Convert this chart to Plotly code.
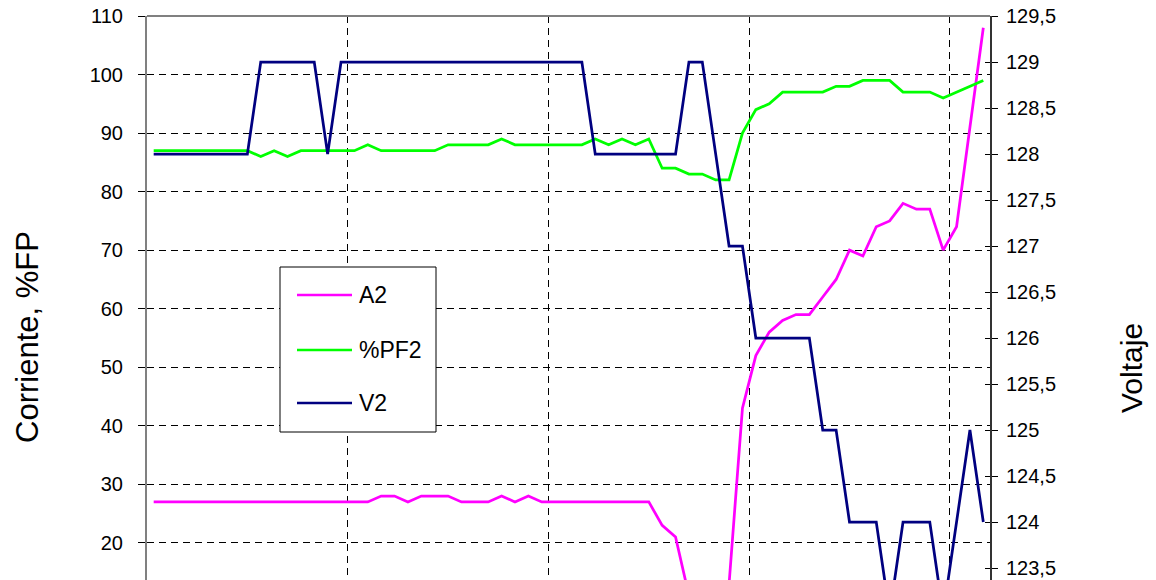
import plotly.graph_objects as go

# ---- data ----
idx = list(range(1, 64))

a2 = [27, 27, 27, 27, 27, 27, 27, 27, 27, 27, 27, 27, 27, 27, 27, 27, 27,
      28, 28, 27, 28, 28, 28, 27, 27, 27, 28, 27, 28,
      27, 27, 27, 27, 27, 27, 27, 27, 27,
      23, 21, 11, 8, 8, 13,
      43, 52, 56, 58, 59, 59, 62, 65, 70, 69, 74, 75, 78, 77, 77, 70, 74, 91, 108]

pf2 = [87, 87, 87, 87, 87, 87, 87, 87, 86, 87, 86, 87, 87, 87, 87, 87, 88,
       87, 87, 87, 87, 87, 88, 88, 88, 88, 89, 88, 88, 88, 88, 88, 88,
       89, 88, 89, 88, 89, 84, 84, 83, 83, 82, 82, 90, 94, 95,
       97, 97, 97, 97, 98, 98, 99, 99, 99, 97, 97, 97, 96, 97, 98, 99]

v2 = [128, 128, 128, 128, 128, 128, 128, 128, 129, 129, 129, 129, 129, 128,
      129, 129, 129, 129, 129, 129, 129, 129, 129, 129, 129, 129, 129, 129,
      129, 129, 129, 129, 129, 128, 128, 128, 128, 128, 128, 128, 129, 129,
      128, 127, 127, 126, 126, 126, 126, 126, 125, 125, 124, 124, 124, 123,
      124, 124, 124, 123, 124, 125, 124]

series_names = ["A2", "%PF2", "V2"]
series_colors = ["#FF00FF", "#00FF00", "#000080"]

left_ticks = [20, 30, 40, 50, 60, 70, 80, 90, 100, 110]
right_ticks = [123.5, 124, 124.5, 125, 125.5, 126, 126.5, 127, 127.5, 128, 128.5, 129, 129.5]
right_labels = ["123,5", "124", "124,5", "125", "125,5", "126", "126,5",
                "127", "127,5", "128", "128,5", "129", "129,5"]
x_grid = [15.5, 30.5, 45.5, 60.5]

FONT = "Liberation Sans, Arial, sans-serif"
LW = 2.75

# screen geometry of the plot area (body margin removed by post_script)
PL, PR, PT, PB = 147, 990, 16, 580
W, H = 1156, 580


def px(sx):
    return (sx - PL) / (PR - PL)


def py(sy):
    return 1 - (sy - PT) / (PB - PT)


fig = go.Figure()
for vals, nm, col, ax in [(a2, series_names[0], series_colors[0], "y"),
                          (pf2, series_names[1], series_colors[1], "y"),
                          (v2, series_names[2], series_colors[2], "y2")]:
    fig.add_trace(go.Scatter(x=idx, y=vals, name=nm, mode="lines", yaxis=ax,
                             line=dict(color=col, width=LW), showlegend=False))
fig.add_trace(go.Scatter(x=[], y=[], yaxis="y3", showlegend=False, hoverinfo="skip"))

fig.update_layout(
    width=W, height=H, autosize=False,
    margin=dict(l=PL, r=W - PR, t=PT, b=H - PB, pad=0, autoexpand=False),
    paper_bgcolor="white", plot_bgcolor="white",
    font=dict(family=FONT, size=20, color="black"),
    separators=", ",
    xaxis=dict(range=[0.5, 63.5], tickvals=x_grid, showticklabels=False, ticks="",
               showgrid=True, gridcolor="black", gridwidth=1, griddash="7px,5px",
               showline=False, zeroline=False, automargin=False),
    yaxis=dict(range=[13.66, 110.001], tickvals=left_ticks, ticks="outside", ticklen=7,
               tickcolor="black", tickwidth=1, showline=True, linecolor="#808080",
               linewidth=2, showgrid=True, gridcolor="black", gridwidth=1,
               griddash="7px,5px", zeroline=False, ticklabelstandoff=11,
               ticklabeloverflow="allow", tickfont=dict(size=20), automargin=False),
    yaxis2=dict(range=[123.37, 129.501], tickvals=right_ticks, ticktext=right_labels,
                overlaying="y", side="right", anchor="x", ticks="outside", ticklen=6,
                tickcolor="black", showline=True, linecolor="#333333", linewidth=2,
                showgrid=False, zeroline=False, ticklabelstandoff=4,
                ticklabeloverflow="allow", tickfont=dict(size=20), automargin=False),
    yaxis3=dict(range=[123.37, 129.501], tickvals=right_ticks, overlaying="y",
                side="right", anchor="x", ticks="inside", ticklen=5, tickcolor="black",
                showticklabels=False, showline=False, showgrid=False, zeroline=False,
                automargin=False),
    showlegend=False,
)

# top border of the plot area
fig.add_shape(type="line", xref="paper", yref="paper", x0=0, x1=1, y0=1, y1=1,
              line=dict(color="#808080", width=2))

# legend box
fig.add_shape(type="rect", xref="paper", yref="paper", layer="above",
              x0=px(280), x1=px(436), y0=py(432), y1=py(267),
              line=dict(color="black", width=1), fillcolor="white")
for i, (nm, col) in enumerate(zip(series_names, series_colors)):
    ly = [295, 350, 403][i]
    fig.add_shape(type="line", xref="paper", yref="paper", layer="above",
                  x0=px(297), x1=px(352), y0=py(ly), y1=py(ly),
                  line=dict(color=col, width=2.5))
    fig.add_annotation(text=nm, xref="paper", yref="paper", x=px(357), y=py(ly),
                       xanchor="left", yanchor="middle", showarrow=False,
                       font=dict(size=23, family=FONT, color="black"))

# axis titles
fig.add_annotation(text="Corriente, %FP", xref="paper", yref="paper",
                   x=px(27), y=py(337), textangle=-90,
                   showarrow=False, font=dict(size=31, family=FONT),
                   xanchor="center", yanchor="middle")
fig.add_annotation(text="Voltaje", xref="paper", yref="paper",
                   x=px(1131), y=py(368), textangle=-90,
                   showarrow=False, font=dict(size=30, family=FONT),
                   xanchor="center", yanchor="middle")

fig.write_html("out.html",
               config={"displayModeBar": False},
               post_script="document.body.style.margin='0px';"
                           "document.body.style.overflow='hidden';")
